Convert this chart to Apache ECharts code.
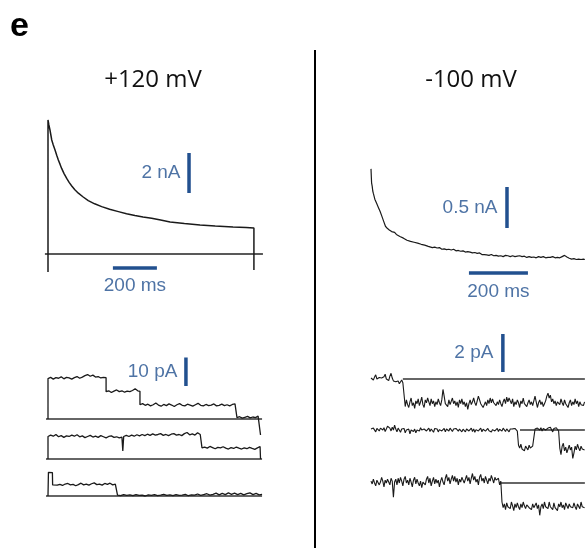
<!DOCTYPE html>
<html>
<head>
<meta charset="utf-8">
<script src="https://cdn.jsdelivr.net/npm/echarts@6/dist/echarts.min.js"></script>
<style>
html, body { margin: 0; padding: 0; background: #fff; }
#main-chart { width: 585px; height: 548px; }
</style>
</head>
<body>
<div id="main-chart"></div>
<script>
// +120 mV, whole-cell current (ms, nA)
var wholeCellPos = [[0,-0.9],[0,6.7],[1,6.7],[4,6.45],[9,6.2],[13,5.95],[17,5.7],[24,5.45],[32,5.2],[40,4.93],
    [47,4.7],[55,4.48],[62,4.28],[73,4.02],[85,3.78],[96,3.58],[108,3.4],[122,3.21],[138,3.04],[160,2.85],
    [183,2.67],[212,2.51],[244,2.37],[280,2.24],[320,2.12],[357,2.01],[395,1.92],[432,1.85],[471,1.79],
    [512,1.7],[555,1.6],[620,1.52],[691,1.45],[760,1.4],[841,1.35],[900,1.32],[936,1.3],[936,-0.8]];
var wholeCellPosBase = [[-14,0],[977,0]];

// +120 mV, single channel sweeps (ms, pA)
var sweepPos1 = [[0,0],[0,14.2],[12,14.6],[24,14.0],[36,14.5],[48,14.3],[60,14.8],[72,14.1],[84,14.6],[96,14.4],
    [108,14.0],[120,14.5],[132,14.9],[144,14.3],[156,14.7],[168,15.2],[180,15.6],[192,15.0],[204,15.4],[216,14.7],
    [228,14.9],[240,14.4],[252,14.6],[264,14.5],[264,9.6],[276,9.9],[288,9.3],[300,9.8],[312,10.2],[324,9.6],
    [336,9.9],[348,9.4],[360,9.8],[372,9.6],[384,10.0],[396,10.6],[408,9.9],[418,9.7],[418,5.0],[430,5.4],
    [442,4.8],[454,5.2],[466,4.6],[478,5.0],[490,5.6],[502,4.9],[514,4.5],[526,5.1],[538,4.7],[550,5.3],
    [562,4.9],[574,4.4],[586,5.0],[598,5.4],[610,4.8],[622,4.6],[634,5.2],[646,4.9],[658,4.5],[670,5.0],
    [682,5.5],[694,4.8],[706,4.6],[718,5.1],[730,4.7],[742,4.9],[754,5.3],[766,4.6],[778,4.8],[790,5.2],
    [802,4.7],[814,5.0],[826,4.6],[838,5.1],[850,5.3],[859,4.9],[859,0.5],[871,0.8],[883,0.3],[895,0.6],
    [907,0.9],[919,0.4],[931,0.7],[943,0.5],[955,1.0],[964,0.6],[966,-5.6]];
var sweepPos2 = [[0,0],[0,7.9],[12,8.4],[24,8.0],[36,8.6],[48,7.8],[60,8.2],[72,7.6],[84,8.1],[96,7.9],
    [108,8.4],[120,8.0],[132,8.5],[144,7.8],[156,8.1],[168,7.5],[180,7.9],[192,8.3],[204,7.7],[216,8.0],
    [228,7.6],[240,8.2],[252,7.8],[264,7.4],[276,7.9],[288,8.1],[300,7.6],[312,7.8],[324,7.4],[336,7.7],
    [340,2.8],[344,7.9],[356,8.3],[368,7.9],[380,8.4],[392,8.0],[404,8.5],[416,8.1],[428,8.6],[440,8.2],
    [452,8.7],[464,8.3],[476,8.8],[488,8.4],[500,8.6],[512,8.9],[524,8.3],[536,8.6],[548,8.2],[560,8.7],
    [572,8.9],[584,8.4],[596,8.6],[608,8.2],[620,8.9],[632,9.3],[644,8.5],[656,8.8],[668,8.4],[680,9.2],
    [692,8.6],[700,8.8],[700,3.9],[712,4.2],[724,3.8],[736,4.4],[748,4.0],[760,3.6],[772,4.1],[784,3.9],
    [796,4.3],[808,3.8],[820,3.5],[832,4.0],[844,3.7],[856,4.2],[868,3.8],[880,3.5],[892,3.9],[904,3.6],
    [916,4.1],[928,3.7],[940,3.4],[952,3.9],[964,4.4],[966,0]];
var sweepPos3 = [[0,0],[2,0],[2,8.3],[10,8.0],[20,8.2],[21,3.9],[30,4.3],[42,3.8],[54,4.1],[66,3.7],[78,4.2],
    [90,4.4],[102,3.9],[114,4.1],[126,3.6],[138,4.0],[150,4.5],[162,3.9],[174,4.2],[186,3.8],[198,4.3],
    [210,4.6],[222,4.0],[234,4.2],[246,3.8],[258,4.4],[270,4.1],[282,4.5],[294,3.9],[306,4.2],[314,3.8],
    [316,0.3],[330,0.1],[344,0.5],[358,0.2],[372,0.4],[386,0.1],[400,0.5],[414,0.2],[428,0.3],[442,0.0],
    [456,0.4],[470,0.2],[484,0.5],[498,0.1],[512,0.3],[526,0.6],[540,0.2],[554,0.4],[568,0.1],[582,0.5],
    [596,0.2],[610,0.3],[624,0.6],[638,0.1],[652,0.4],[666,0.3],[680,0.7],[694,0.2],[708,0.5],[722,0.8],
    [736,0.3],[750,0.6],[764,1.0],[778,0.4],[792,0.9],[806,0.5],[820,1.1],[834,0.6],[848,1.0],[862,0.5],
    [876,0.9],[890,0.4],[904,0.8],[918,1.1],[932,0.5],[946,0.9],[960,0.4],[973,0.6]];
var sweepPosBase = [[-9,0],[973,0]];

// -100 mV, whole-cell current (ms, nA)
var wholeCellNeg = [[0,1.27],[1,1.18],[2,1.10],[4,1.06],[6,1.00],[8,0.97],[10,0.95],[13,0.90],[16,0.89],[19,0.85],
    [22,0.83],[25,0.80],[28,0.78],[31,0.75],[34,0.73],[37,0.69],[40,0.67],[43,0.63],[46,0.61],[49,0.57],
    [52,0.555],[55,0.545],[58,0.53],[62,0.525],[66,0.51],[70,0.505],[75,0.49],[80,0.495],[86,0.47],[92,0.465],
    [98,0.445],[104,0.44],[110,0.425],[116,0.42],[122,0.40],[128,0.405],[134,0.385],[140,0.39],[146,0.375],
    [152,0.38],[158,0.365],[164,0.37],[170,0.35],[176,0.345],[182,0.34],[188,0.345],[194,0.325],[200,0.33],
    [208,0.31],[216,0.315],[224,0.305],[232,0.31],[240,0.29],[248,0.295],[256,0.285],[264,0.29],[272,0.28],
    [280,0.29],[288,0.27],[296,0.275],[304,0.265],[312,0.27],[320,0.255],[328,0.26],[336,0.255],[344,0.245],
    [352,0.25],[360,0.24],[368,0.245],[376,0.225],[384,0.225],[392,0.22],[400,0.215],[408,0.225],[416,0.21],
    [424,0.215],[432,0.205],[440,0.21],[448,0.20],[456,0.215],[464,0.21],[472,0.20],[480,0.21],[488,0.20],
    [496,0.205],[504,0.21],[512,0.20],[520,0.205],[528,0.19],[536,0.20],[544,0.19],[552,0.195],[560,0.185],
    [568,0.20],[576,0.19],[584,0.20],[592,0.185],[600,0.19],[608,0.19],[616,0.20],[624,0.185],[632,0.19],
    [640,0.185],[648,0.20],[656,0.215],[664,0.195],[672,0.18],[680,0.17],[688,0.175],[696,0.165],[704,0.17],
    [712,0.165],[720,0.17],[725,0.165]];

// -100 mV, single channel sweeps, one sample every 4 ms (pA)
var sampleStep = 4;
var sweepNeg1 = [0.05,0.15,-0.05,0.1,0.22,0.0,-0.1,0.08,0.18,0.05,-0.05,0.12,0.25,0.0,0.1,-0.08,0.15,0.3,0.05,-0.1,
    -0.05,-0.15,-0.2,-0.1,-0.25,-0.15,-0.05,-0.2,-0.12,
    -1.45,-1.1,-1.35,-1.5,-1.2,-1.0,-1.4,-1.25,-1.55,-1.15,
    -1.3,-1.05,-1.4,-1.2,-0.95,-1.35,-1.5,-1.1,-1.25,-1.0,
    -1.2,-1.4,-1.05,-1.3,-1.15,-1.45,-1.2,-1.35,-1.05,-1.25,
    -1.4,-1.1,-0.55,-0.9,-1.3,-1.2,-1.45,-1.1,-1.35,-1.25,
    -1.0,-1.3,-1.15,-1.4,-1.2,-1.5,-1.1,-1.3,-1.05,-1.35,
    -1.2,-1.45,-1.25,-1.6,-1.3,-1.1,-1.35,-1.2,-1.0,-1.25,
    -1.4,-1.15,-0.9,-1.1,-1.3,-1.25,-1.5,-1.35,-1.2,-1.4,
    -1.1,-1.3,-1.0,-1.25,-1.05,-1.25,-1.15,-1.4,-1.2,-1.35,
    -1.1,-1.3,-1.45,-1.2,-1.05,-1.3,-0.95,-1.2,-1.0,-1.15,
    -1.3,-1.05,-1.45,-1.2,-1.35,-1.1,-1.25,-1.5,-1.15,-1.3,
    -1.0,-1.3,-1.2,-1.45,-1.25,-1.1,-1.35,-1.2,-1.4,-1.3,
    -0.9,-1.2,-1.5,-1.25,-1.1,-1.35,-1.2,-1.45,-1.3,-1.15,
    -0.9,-0.75,-1.0,-0.85,-1.2,-1.05,-1.3,-1.15,-1.4,-1.2,
    -1.15,-1.35,-1.05,-1.25,-1.4,-1.1,-1.3,-1.2,-1.5,-1.25,
    -1.1,-1.4,-1.2,-1.35,-1.05,-1.3,-1.15,-1.45,-1.2,-1.35,
    -1.25,-1.4,-1.2];
var sweepNeg2 = [0.05,-0.05,0.1,0.0,-0.1,0.08,0.15,-0.05,0.1,0.2,
    0.0,0.12,-0.08,0.05,0.2,0.3,0.1,-0.05,0.15,0.0,
    0.25,0.05,-0.1,0.1,0.0,-0.12,0.05,-0.05,0.08,-0.15,
    0.0,-0.1,0.05,-0.2,0.0,0.1,-0.08,0.05,-0.15,0.0,
    0.1,-0.05,0.12,0.0,-0.1,0.05,0.15,-0.05,0.0,0.1,
    -0.08,0.05,0.0,-0.12,0.08,0.0,0.05,-0.1,0.02,0.1,
    -0.05,0.0,0.08,-0.1,0.05,0.0,-0.05,0.1,0.0,-0.08,
    0.05,-0.02,0.08,0.0,-0.06,0.05,0.0,-0.1,0.04,0.0,
    -0.1,0.05,0.12,-0.05,0.0,0.1,-0.08,0.06,-0.12,0.02,
    0.08,-0.05,0.0,0.1,-0.1,0.04,0.12,-0.06,0.0,0.08,
    -0.04,0.06,-0.1,0.02,0.1,-0.05,0.0,0.08,-0.08,0.04,
    0.0,-0.06,0.1,0.02,-0.08,0.06,0.0,-0.1,0.05,-0.02,
    0.06,-0.04,0.08,0.0,-0.06,-0.8,-0.95,-0.75,-1.0,-0.9,
    -1.1,-0.85,-0.95,-1.05,-0.8,-0.95,-1.0,-0.85,-0.9,0.05,
    -0.05,0.1,0.2,0.0,0.12,-0.05,0.08,0.15,0.0,-0.08,
    0.1,0.0,0.15,0.05,-0.1,0.08,0.0,0.12,0.05,-0.05,
    -0.95,-1.3,-0.85,-0.7,-1.1,-0.9,-1.2,-1.0,-0.8,-1.05,
    -0.9,-1.5,-1.2,-0.85,-1.05,-0.75,-0.95,-1.1,-0.85,-1.0,
    -0.9,-1.05];
var sweepNeg3 = [0.1,-0.05,0.2,0.0,-0.15,0.15,0.25,-0.1,0.05,0.3,
    0.1,-0.2,0.15,0.0,0.2,0.05,-0.1,0.25,0.1,-0.75,
    0.05,0.2,-0.1,0.25,0.0,0.3,0.1,-0.15,0.2,0.35,
    0.0,0.15,-0.1,0.25,0.05,-0.2,0.15,0.3,-0.05,0.2,
    0.0,-0.15,0.1,-0.25,0.05,0.15,-0.1,0.2,0.35,0.0,
    0.25,-0.15,0.1,0.3,-0.05,0.2,0.0,0.15,-0.2,0.1,
    0.3,0.05,-0.1,0.25,0.45,0.1,0.3,-0.05,0.2,0.4,
    0.1,0.35,0.05,0.25,-0.1,0.2,0.05,0.3,0.15,0.0,
    0.2,0.4,0.1,0.3,-0.05,0.25,0.5,0.15,0.35,0.05,
    0.2,-0.1,0.3,0.45,0.1,0.25,0.0,0.35,0.15,-0.05,
    0.25,0.1,0.4,0.2,0.0,0.3,0.15,0.05,0.25,-0.1,
    0.1,-1.0,-1.3,-1.1,-1.4,-1.05,-1.25,-1.15,-1.35,-1.0,
    -1.2,-1.45,-1.1,-1.3,-1.05,-1.25,-1.4,-1.1,-1.3,-1.0,
    -1.2,-1.35,-1.15,-1.05,-1.3,-1.25,-1.4,-1.1,-1.3,-1.2,
    -1.05,-1.35,-1.15,-1.7,-1.25,-1.1,-1.35,-1.0,-1.25,-1.15,
    -1.35,-1.0,-1.25,-1.15,-1.4,-1.05,-1.3,-1.2,-1.45,-1.1,
    -1.25,-1.0,-1.3,-1.15,-1.4,-1.05,-1.2,-1.35,-1.1,-1.25,
    -1.15,-1.3,-1.05,-1.25,-1.4,-1.1,-1.2,-1.35,-1.0,-1.25,
    -1.15,-1.3];
// closed level lines, drawn from where each sweep leaves it
var closedNeg1 = [[108,0],[725,0]];
var closedNeg2 = [[505,0],[725,0]];
var closedNeg3 = [[437,0],[725,0]];

// scale bars
var barPosNA = [[641,3.05],[641,5.05]];
var barPosMs = [[295,-0.7],[495,-0.7]];
var barPosPA = [[627,11.6],[627,21.6]];
var barNegNA = [[461,0.55],[461,1.05]];
var barNegMs = [[332,0],[532,0]];
var barNegPA = [[447,0.37],[447,2.37]];

var titles = ['+120 mV', '-100 mV'];

var blue = '#22508f';
var ink = '#1a1a1a';

// each panel: pixel of the data origin, pixels per unit, and data range
var panels = [
    {x0: 48, y0: 254, sx: 0.22, sy: 20, xmin: -30, xmax: 1000, ymin: -1.5, ymax: 7.5},
    {x0: 48, y0: 419, sx: 0.22, sy: 2.85, xmin: -30, xmax: 1000, ymin: -8, ymax: 23},
    {x0: 48, y0: 459, sx: 0.22, sy: 2.85, xmin: -30, xmax: 1000, ymin: -8, ymax: 12},
    {x0: 48, y0: 496, sx: 0.22, sy: 2.85, xmin: -30, xmax: 1000, ymin: -8, ymax: 12},
    {x0: 371, y0: 273, sx: 0.295, sy: 82, xmin: -10, xmax: 725, ymin: -0.3, ymax: 1.4},
    {x0: 371, y0: 379, sx: 0.295, sy: 19, xmin: -10, xmax: 725, ymin: -2.5, ymax: 2.6},
    {x0: 371, y0: 430, sx: 0.295, sy: 19, xmin: -10, xmax: 725, ymin: -2.5, ymax: 1},
    {x0: 371, y0: 483, sx: 0.295, sy: 19, xmin: -10, xmax: 725, ymin: -2.5, ymax: 1}
];

var grids = [], xAxes = [], yAxes = [];
panels.forEach(function(p, i) {
    grids.push({
        left: p.x0 + p.xmin * p.sx,
        top: p.y0 - p.ymax * p.sy,
        width: (p.xmax - p.xmin) * p.sx,
        height: (p.ymax - p.ymin) * p.sy,
        containLabel: false
    });
    xAxes.push({type: 'value', gridIndex: i, min: p.xmin, max: p.xmax, show: false});
    yAxes.push({type: 'value', gridIndex: i, min: p.ymin, max: p.ymax, show: false});
});

function steps(values) {
    return values.map(function(v, i) { return [i * sampleStep, v]; });
}

function trace(g, data, width, color) {
    return {
        type: 'line', xAxisIndex: g, yAxisIndex: g, data: data,
        showSymbol: false, symbol: 'none', silent: true,
        lineStyle: {color: color || ink, width: width || 1}
    };
}

function bar(g, data) {
    return trace(g, data, 3.5, blue);
}

function barLabel(g, data, text, pos, dist) {
    var mid = [(data[0][0] + data[1][0]) / 2, (data[0][1] + data[1][1]) / 2];
    return {
        type: 'scatter', xAxisIndex: g, yAxisIndex: g, silent: true,
        symbolSize: 1, itemStyle: {color: 'rgba(0,0,0,0)'},
        data: [mid],
        label: {
            show: true, position: pos, distance: dist, formatter: text,
            color: blue, fontSize: 19, fontFamily: 'Liberation Sans'
        }
    };
}

var myChart = echarts.init(document.getElementById('main-chart'), null, {renderer: 'canvas'});
var option = {
    backgroundColor: '#ffffff',
    animation: false,
    grid: grids,
    xAxis: xAxes,
    yAxis: yAxes,
    graphic: [
        {type: 'text', left: 10, top: 10, style: {text: 'e', font: 'bold 34px "Liberation Sans"', fill: '#000'}},
        {type: 'text', x: 153, y: 80, style: {text: titles[0], font: '24px "Open Sans"', fill: '#111', align: 'center', verticalAlign: 'middle'}},
        {type: 'text', x: 471, y: 80, style: {text: titles[1], font: '24px "Open Sans"', fill: '#111', align: 'center', verticalAlign: 'middle'}},
        {type: 'line', shape: {x1: 315, y1: 50, x2: 315, y2: 548}, style: {stroke: '#000', lineWidth: 2}}
    ],
    series: [
        trace(0, wholeCellPosBase, 1.5, '#222'),
        trace(0, wholeCellPos, 1.5),
        bar(0, barPosNA),
        bar(0, barPosMs),
        barLabel(0, barPosNA, '2 nA', 'left', 8),
        barLabel(0, barPosMs, '200 ms', 'bottom', 8),

        trace(1, sweepPosBase, 1.3, '#333'),
        trace(2, sweepPosBase, 1.3, '#333'),
        trace(3, sweepPosBase, 1.3, '#333'),
        trace(1, sweepPos1, 1.3),
        trace(2, sweepPos2, 1.3),
        trace(3, sweepPos3, 1.3),
        bar(1, barPosPA),
        barLabel(1, barPosPA, '10 pA', 'left', 8),

        trace(4, wholeCellNeg, 1.2),
        bar(4, barNegNA),
        bar(4, barNegMs),
        barLabel(4, barNegNA, '0.5 nA', 'left', 9),
        barLabel(4, barNegMs, '200 ms', 'bottom', 9),

        trace(5, closedNeg1, 1.5, '#333'),
        trace(6, closedNeg2, 1.5, '#333'),
        trace(7, closedNeg3, 1.5, '#333'),
        trace(5, steps(sweepNeg1), 1.1),
        trace(6, steps(sweepNeg2), 1.1),
        trace(7, steps(sweepNeg3), 1.1),
        bar(5, barNegPA),
        barLabel(5, barNegPA, '2 pA', 'left', 9)
    ]
};
myChart.setOption(option);
</script>
</body>
</html>
